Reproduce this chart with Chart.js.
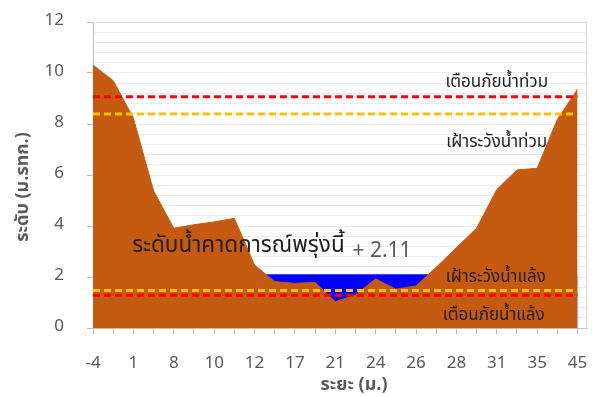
<!DOCTYPE html>
<html lang="th">
<head>
<meta charset="UTF-8">
<title>ระดับน้ำ</title>
<script src="https://cdn.jsdelivr.net/npm/chart.js"></script>
<style>
  body { margin: 0; background: #fff; }
  canvas { display: block; }
</style>
</head>
<body>
<canvas id="profileChart" width="602" height="397"></canvas>
<script>
// survey points across the channel, left bank to right bank (m)
const distances = [-4, -2, 1, 5, 8, 9, 10, 11, 12, 14, 17, 19, 21, 23, 24, 25, 26, 27, 28, 30, 31, 33, 35, 40, 45];
// bed level at each point (m MSL)
const bedLevels = [10.31, 9.70, 8.23, 5.38, 3.91, 4.05, 4.16, 4.30, 2.47, 1.82, 1.75, 1.79, 1.03, 1.29, 1.93, 1.52, 1.65, 2.38, 3.15, 3.91, 5.43, 6.20, 6.26, 8.18, 9.36];
// tomorrow's forecast water level and the alert thresholds (m MSL)
const forecastLevel = 2.11;
const floodWarning = 9.07;
const floodWatch = 8.39;
const droughtWatch = 1.47;
const droughtWarning = 1.28;

const THAI = "Tahoma, 'Noto Sans Thai', 'Leelawadee UI', 'Noto Sans', sans-serif";
const GREY = '#595959';

const pts = vals => vals.map((v, i) => ({ x: i, y: v }));
const flat = v => distances.map((d, i) => ({ x: i, y: v }));

function thresholdLine(value, color) {
  return {
    data: flat(value),
    borderColor: color,
    borderWidth: 3,
    borderDash: [7, 4],
    pointRadius: 0,
    fill: false,
    order: 0
  };
}

// light frame on the top and right of the plot area
const plotFrame = {
  id: 'plotFrame',
  beforeDatasetsDraw(chart) {
    const { ctx, chartArea: a } = chart;
    ctx.save();
    ctx.strokeStyle = '#D9D9D9';
    ctx.lineWidth = 1;
    ctx.beginPath();
    ctx.moveTo(a.left, a.top + 0.5);
    ctx.lineTo(a.right - 0.5, a.top + 0.5);
    ctx.lineTo(a.right - 0.5, a.bottom);
    ctx.stroke();
    ctx.restore();
  }
};

// text labels placed in data coordinates
const notes = {
  id: 'notes',
  afterDatasetsDraw(chart, args, opts) {
    const { ctx, scales: { x, y } } = chart;
    ctx.save();
    ctx.textBaseline = 'alphabetic';
    opts.items.forEach(n => {
      ctx.font = n.font;
      ctx.fillStyle = n.color;
      ctx.textAlign = n.align || 'center';
      ctx.fillText(n.text, x.getPixelForValue(n.x), y.getPixelForValue(n.y));
    });
    ctx.restore();
  }
};

// axis titles
const axisTitles = {
  id: 'axisTitles',
  afterDraw(chart) {
    const { ctx } = chart;
    ctx.save();
    ctx.fillStyle = GREY;
    ctx.font = 'bold 18px ' + THAI;
    ctx.textAlign = 'center';
    ctx.textBaseline = 'middle';
    ctx.fillText('ระยะ (ม.)', 354, 386);
    ctx.translate(24, 187);
    ctx.rotate(-Math.PI / 2);
    ctx.fillText('ระดับ (ม.รทก.)', 0, 0);
    ctx.restore();
  }
};

new Chart(document.getElementById('profileChart'), {
  type: 'line',
  data: {
    datasets: [
      thresholdLine(floodWarning, '#FF0000'),
      thresholdLine(floodWatch, '#FFC000'),
      thresholdLine(droughtWatch, '#FFC000'),
      thresholdLine(droughtWarning, '#FF0000'),
      {
        data: pts(bedLevels),
        borderColor: '#C55A11',
        borderWidth: 1,
        backgroundColor: '#C55A11',
        pointRadius: 0,
        fill: 'origin',
        order: 1
      },
      {
        data: flat(forecastLevel),
        borderWidth: 0,
        backgroundColor: '#0000FF',
        pointRadius: 0,
        fill: 'origin',
        order: 2
      }
    ]
  },
  options: {
    responsive: false,
    animation: false,
    layout: { padding: { top: 22, right: 15, left: 0, bottom: 0 } },
    plugins: {
      legend: { display: false },
      tooltip: { enabled: false },
      notes: {
        items: [
          { text: 'เตือนภัยน้ำท่วม', x: 20, y: 9.45, font: '17px ' + THAI, color: '#1F1F1F' },
          { text: 'เฝ้าระวังน้ำท่วม', x: 20, y: 7.1, font: '17px ' + THAI, color: '#1F1F1F' },
          { text: 'เฝ้าระวังน้ำแล้ง', x: 19.95, y: 1.82, font: '17px ' + THAI, color: '#1F1F1F' },
          { text: 'เตือนภัยน้ำแล้ง', x: 19.85, y: 0.33, font: '17px ' + THAI, color: '#1F1F1F' },
          { text: 'ระดับน้ำคาดการณ์พรุ่งนี้', x: 1.95, y: 2.98, font: '22.5px ' + THAI, color: '#1F1F1F', align: 'left' },
          { text: '+ ' + forecastLevel.toFixed(2), x: 12.85, y: 2.78, font: '21px ' + THAI, color: GREY, align: 'left' }
        ]
      }
    },
    scales: {
      x: {
        type: 'linear',
        bounds: 'data',
        min: 0,
        max: 24.47,
        afterFit: s => { s.height = 69; s.paddingLeft = 0; s.paddingRight = 0; },
        border: { color: '#BFBFBF' },
        grid: { drawOnChartArea: false, tickLength: 6, tickColor: '#BFBFBF' },
        ticks: {
          stepSize: 1,
          includeBounds: false,
          autoSkip: false,
          maxRotation: 0,
          padding: 20,
          color: GREY,
          font: { family: THAI, size: 17 },
          callback: v => (v % 2 === 0 ? String(distances[v]) : '')
        }
      },
      y: {
        min: 0,
        max: 12,
        afterFit: s => { s.width = 93; s.paddingTop = 0; s.paddingBottom = 0; },
        border: { color: '#BFBFBF' },
        grid: {
          tickLength: 6,
          color: c => (c.tick.value === 0 ? 'rgba(0,0,0,0)' : '#EBEBEB'),
          tickColor: c => (Math.round(c.tick.value * 10) % 20 === 0 ? '#BFBFBF' : 'rgba(0,0,0,0)')
        },
        ticks: {
          stepSize: 0.4,
          autoSkip: false,
          padding: 23,
          color: GREY,
          font: { family: THAI, size: 17 },
          callback: v => (Math.round(v * 10) % 20 === 0 ? String(Math.round(v)) : '')
        }
      }
    }
  },
  plugins: [plotFrame, notes, axisTitles]
});
</script>
</body>
</html>
